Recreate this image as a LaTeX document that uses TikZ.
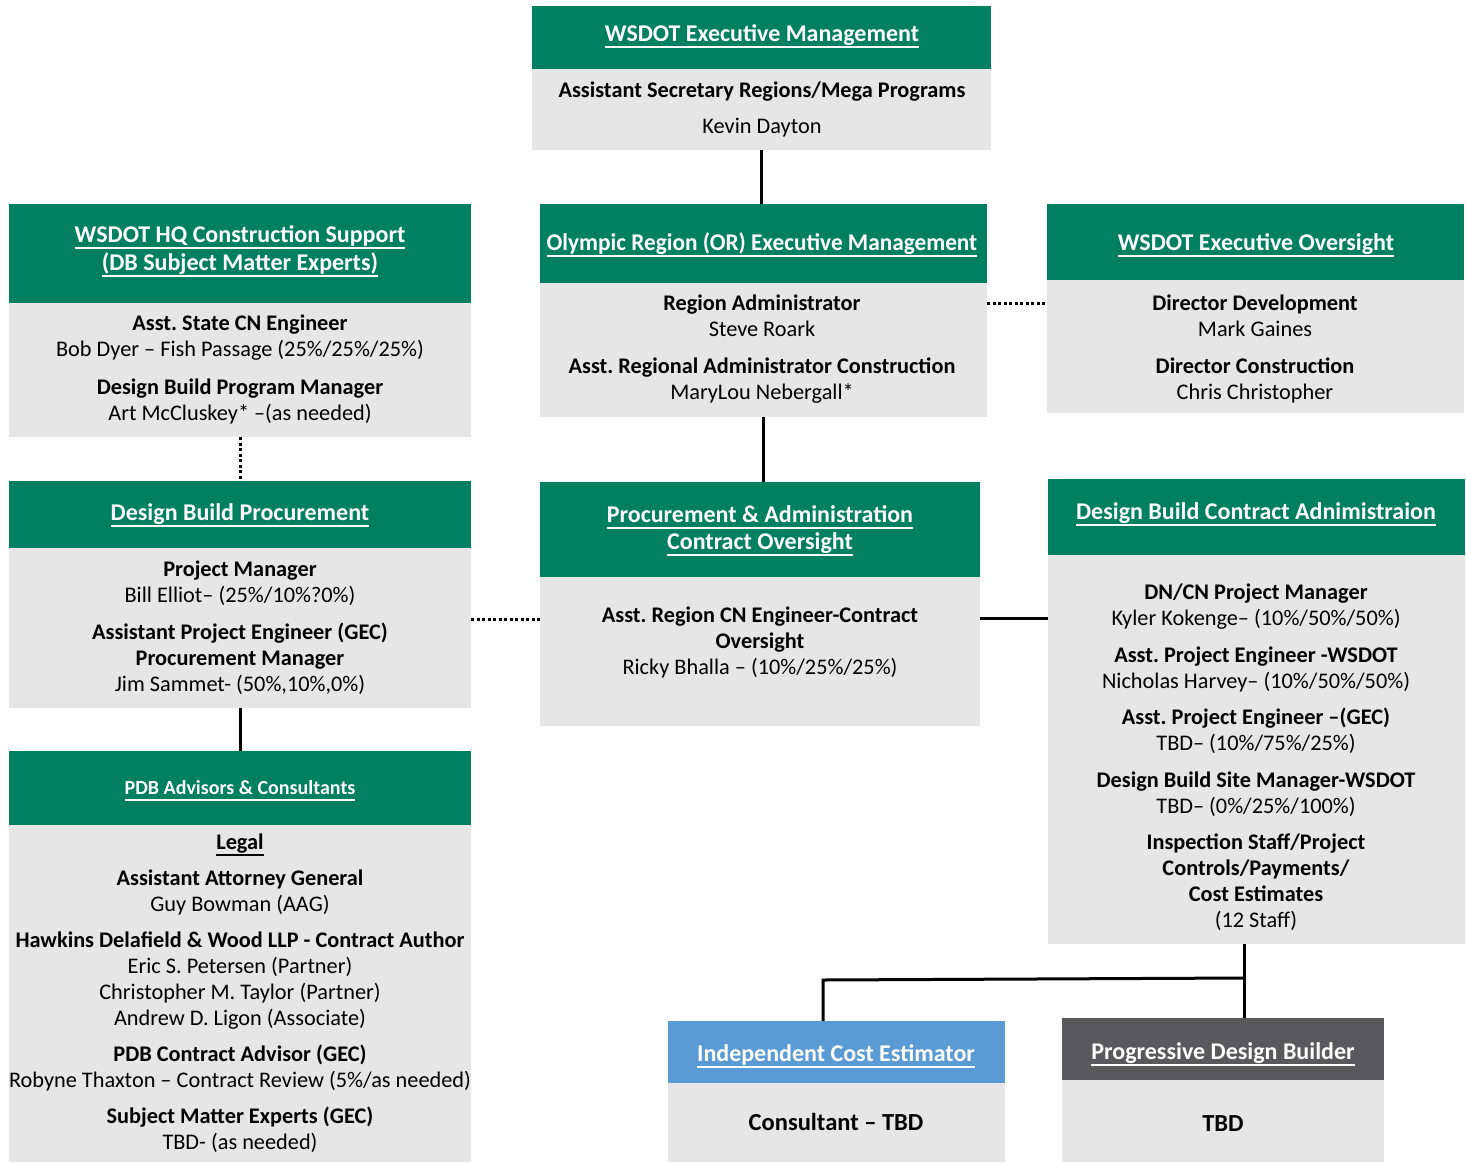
\documentclass[tikz,border=0pt]{standalone}
\usepackage{fontspec}
\setmainfont{Carlito}
\usetikzlibrary{calc}
\frenchspacing
\definecolor{hgreen}{RGB}{0,128,96}
\definecolor{bgray}{RGB}{230,230,230}
\definecolor{iblue}{RGB}{91,155,213}
\definecolor{dgray}{RGB}{89,89,91}
\newcommand\ulx[1]{\setbox0\hbox{#1}\rlap{\rule[-7pt]{\wd0}{1.8pt}}\box0}
\newcommand\fs{\rule{0pt}{18pt}}
\tikzset{
  hdr/.style={anchor=north west, inner sep=0pt, outer sep=0pt, draw=none},
  bdy/.style={fill=bgray, anchor=north west, inner sep=0pt, outer sep=0pt, draw=none},
  ttl/.style={text=white, font=\bfseries\fontsize{24}{28}\selectfont, anchor=base, inner sep=0pt},
  txt/.style={font=\frenchspacing\fontsize{22.3}{26}\selectfont, align=center, anchor=north, inner sep=0pt},
  big/.style={font=\bfseries\fontsize{24.5}{28}\selectfont, anchor=base, inner sep=0pt},
  conn/.style={line width=3pt},
  dconn/.style={line width=3pt, dash pattern=on 3pt off 2.5pt},
}
\newcommand\orgbox[7][hgreen]{%
  \node[hdr, fill=#1, minimum width={(#5-#3)*1pt}, minimum height={(#6-#4)*1pt}] (#2-h) at (#3,#4) {};
  \node[bdy, minimum width={(#5-#3)*1pt}, minimum height={(#7-#6)*1pt}] (#2-b) at (#3,#6) {};
}
\begin{document}
\begin{tikzpicture}[x=1pt,y=-1pt]
\useasboundingbox (0,0) rectangle (1466,1162);
% boxes
\orgbox{exec}{532}{6}{991}{69}{150}
\orgbox{hq}{9}{204}{471}{303}{437}
\orgbox{or}{540}{204}{987}{283}{417}
\orgbox{ovs}{1047}{204}{1464}{280}{413}
\orgbox{dbp}{9}{481}{471}{548}{708}
\orgbox{pao}{540}{482}{980}{577}{726}
\orgbox{dbca}{1048}{479}{1465}{555}{944}
\orgbox{pdb}{9}{751}{471}{825}{1162}
\orgbox[iblue]{ice}{668}{1021}{1005}{1083}{1162}
\orgbox[dgray]{bld}{1062}{1018}{1384}{1080}{1162}
% titles
\node[ttl] (exec-t) at (762,41) {\ulx{WSDOT Executive Management}};
\node[ttl] (hq-t1) at (240,242) {\ulx{WSDOT HQ Construction Support}};
\node[ttl] (hq-t2) at (240,270) {\ulx{(DB Subject Matter Experts)}};
\node[ttl] (or-t) at (762,250) {\ulx{\scalebox{0.97}[1]{Olympic Region (OR) Executive Management}}};
\node[ttl] (ovs-t) at (1256,250) {\ulx{WSDOT Executive Oversight}};
\node[ttl] (dbp-t) at (240,520) {\ulx{Design Build Procurement}};
\node[ttl] (pao-t1) at (760,522) {\ulx{Procurement \& Administration}};
\node[ttl] (pao-t2) at (760,549) {\ulx{Contract Oversight}};
\node[ttl] (dbca-t) at (1256,519) {\ulx{Design Build Contract Adnimistraion}};
\node[ttl, font=\bfseries\fontsize{20}{24}\selectfont] (pdb-t) at (240,794) {\ulx{PDB Advisors \& Consultants}};
\node[ttl] (ice-t) at (836,1061) {\ulx{Independent Cost Estimator}};
\node[ttl] (bld-t) at (1223,1059) {\ulx{Progressive Design Builder}};
% body texts
\node[txt] (exec-x) at (762,79) {\fs\textbf{Assistant Secretary Regions/Mega Programs}\\[10pt] Kevin Dayton};
\node[txt] (hq-x) at (240,312) {\fs\textbf{Asst. State CN Engineer}\\ Bob Dyer – Fish Passage (25\%/25\%/25\%)\\[12pt]
  \textbf{Design Build Program Manager}\\ Art McCluskey* –(as needed)};
\node[txt] (or-x) at (762,292) {\fs\textbf{Region Administrator}\\ Steve Roark\\[11pt]
  \textbf{Asst. Regional Administrator Construction}\\ MaryLou Nebergall*};
\node[txt] (ovs-x) at (1255,292) {\fs\textbf{Director Development}\\ Mark Gaines\\[11pt]
  \textbf{Director Construction}\\ Chris Christopher};
\node[txt] (dbp-x) at (240,558) {\fs\textbf{Project Manager}\\ Bill Elliot– (25\%/10\%?0\%)\\[11pt]
  \textbf{Assistant Project Engineer (GEC)}\\ \textbf{Procurement Manager}\\ Jim Sammet- (50\%,10\%,0\%)};
\node[txt] (pao-x) at (760,604) {\fs\textbf{Asst. Region CN Engineer-Contract}\\ \textbf{Oversight}\\ Ricky Bhalla – (10\%/25\%/25\%)};
\node[txt] (dbca-x) at (1256,581) {\fs\textbf{DN/CN Project Manager}\\ Kyler Kokenge– (10\%/50\%/50\%)\\[11pt]
  \textbf{Asst. Project Engineer -WSDOT}\\ Nicholas Harvey– (10\%/50\%/50\%)\\[10pt]
  \textbf{Asst. Project Engineer –(GEC)}\\ TBD– (10\%/75\%/25\%)\\[11pt]
  \textbf{Design Build Site Manager-WSDOT}\\ TBD– (0\%/25\%/100\%)\\[10pt]
  \textbf{Inspection Staff/Project}\\ \textbf{Controls/Payments/}\\ \textbf{Cost Estimates}\\ (12 Staff)};
\node[txt] (pdb-x) at (240,831) {\fs\textbf{\ulx{Legal}}\\[10pt]
  \textbf{Assistant Attorney General}\\ Guy Bowman (AAG)\\[10pt]
  \textbf{Hawkins Delafield \& Wood LLP - Contract Author}\\ Eric S. Petersen (Partner)\\ Christopher M. Taylor (Partner)\\ Andrew D. Ligon (Associate)\\[10pt]
  \textbf{PDB Contract Advisor (GEC)}\\ Robyne Thaxton – Contract Review (5\%/as needed)\\[10pt]
  \textbf{Subject Matter Experts (GEC)}\\ TBD- (as needed)};
\node[big] (ice-x) at (836,1130) {Consultant – TBD};
\node[big] (bld-x) at (1223,1131) {TBD};
% connectors
\draw[conn] (exec-b.south) -- (exec-b.south |- or-h.north);
\draw[conn] (or-b.south) -- (or-b.south |- pao-h.north);
\coordinate (d1) at ($(or-b.north east)+(0,20)$);
\draw[dconn] (d1) -- (d1 -| ovs-b.west);
\draw[dconn] (hq-b.south) -- (hq-b.south |- dbp-h.north);
\coordinate (d2) at ($(dbp-b.north east)+(0,71)$);
\draw[dconn] (d2) -- (d2 -| pao-b.west);
\coordinate (d3) at ($(pao-b.north east)+(0,41)$);
\draw[conn] (d3) -- (d3 -| dbca-b.west);
\draw[conn] (dbp-b.south) -- (dbp-b.south |- pdb-h.north);
\coordinate (jx) at (1244,978);
\coordinate (ix) at (823,980);
\draw[conn] (jx |- dbca-b.south) -- (jx |- bld-h.north);
\draw[conn] (jx) -- (ix) -- (ix |- ice-h.north);
\end{tikzpicture}
\end{document}
